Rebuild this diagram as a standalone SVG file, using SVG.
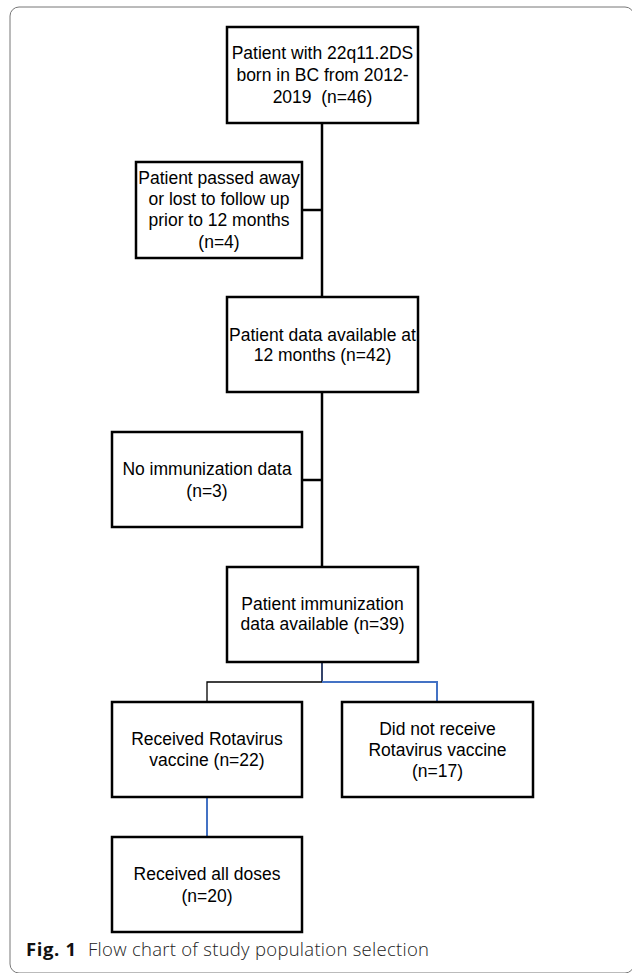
<svg xmlns="http://www.w3.org/2000/svg" width="632" height="973" viewBox="0 0 632 973">
<style>
.box{fill:#fff;stroke:#000;stroke-width:2.5}
.t{font-family:"Liberation Sans",Arial,sans-serif;font-size:17.5px;fill:#000;text-anchor:middle}
.main{stroke:#000;stroke-width:2.5;fill:none}
.thin{stroke:#000;stroke-width:1.3;fill:none}
.blue{stroke:#4472C4;stroke-width:2;fill:none}
.cap{font-family:"Open Sans","Noto Sans",sans-serif;font-size:18.5px;fill:#222}
</style>
<rect x="10" y="7" width="624" height="966" rx="9" fill="#fff" stroke="#777" stroke-width="1"/>
<g id="connectors">
<line class="main" x1="322" y1="123" x2="322" y2="297"/>
<line class="main" x1="302" y1="210" x2="322" y2="210"/>
<line class="main" x1="322" y1="392" x2="322" y2="567"/>
<line class="main" x1="302" y1="480" x2="322" y2="480"/>
<line stroke="#1f2f5a" stroke-width="1.8" x1="322" y1="662" x2="322" y2="682"/>
<polyline class="thin" points="322,682 207,682 207,702"/>
<polyline class="blue" points="322,682 437,682 437,702"/>
<line class="blue" x1="207" y1="797" x2="207" y2="837"/>
</g>
<g id="n1"><rect class="box" x="227" y="27" width="191" height="96"/>
<text class="t" x="322.5" y="59">Patient with 22q11.2DS</text>
<text class="t" x="322.5" y="81">born in BC from 2012-</text>
<text class="t" x="322.5" y="103">2019&#160; (n=46)</text></g>
<g id="n2"><rect class="box" x="136" y="162" width="166" height="96"/>
<text class="t" x="219" y="184">Patient passed away</text>
<text class="t" x="219" y="205">or lost to follow up</text>
<text class="t" x="219" y="226">prior to 12 months</text>
<text class="t" x="219" y="248">(n=4)</text></g>
<g id="n3"><rect class="box" x="227" y="297" width="191" height="95"/>
<text class="t" x="322.5" y="341">Patient data available at</text>
<text class="t" x="322.5" y="361">12 months (n=42)</text></g>
<g id="n4"><rect class="box" x="112" y="432" width="190" height="95"/>
<text class="t" x="207" y="475">No immunization data</text>
<text class="t" x="207" y="497">(n=3)</text></g>
<g id="n5"><rect class="box" x="227" y="567" width="191" height="95"/>
<text class="t" x="322.5" y="610">Patient immunization</text>
<text class="t" x="322.5" y="630">data available (n=39)</text></g>
<g id="n6"><rect class="box" x="112" y="702" width="190" height="95"/>
<text class="t" x="207" y="745">Received Rotavirus</text>
<text class="t" x="207" y="766">vaccine (n=22)</text></g>
<g id="n7"><rect class="box" x="342" y="702" width="191" height="95"/>
<text class="t" x="437.5" y="735">Did not receive</text>
<text class="t" x="437.5" y="756">Rotavirus vaccine</text>
<text class="t" x="437.5" y="777">(n=17)</text></g>
<g id="n8"><rect class="box" x="112" y="837" width="190" height="95"/>
<text class="t" x="207" y="880">Received all doses</text>
<text class="t" x="207" y="902">(n=20)</text></g>
<g id="caption"><text class="cap" x="26" y="956"><tspan font-weight="bold" fill="#111" textLength="50">Fig. 1</tspan><tspan x="88" font-weight="300" textLength="341">Flow chart of study population selection</tspan></text></g>
</svg>
